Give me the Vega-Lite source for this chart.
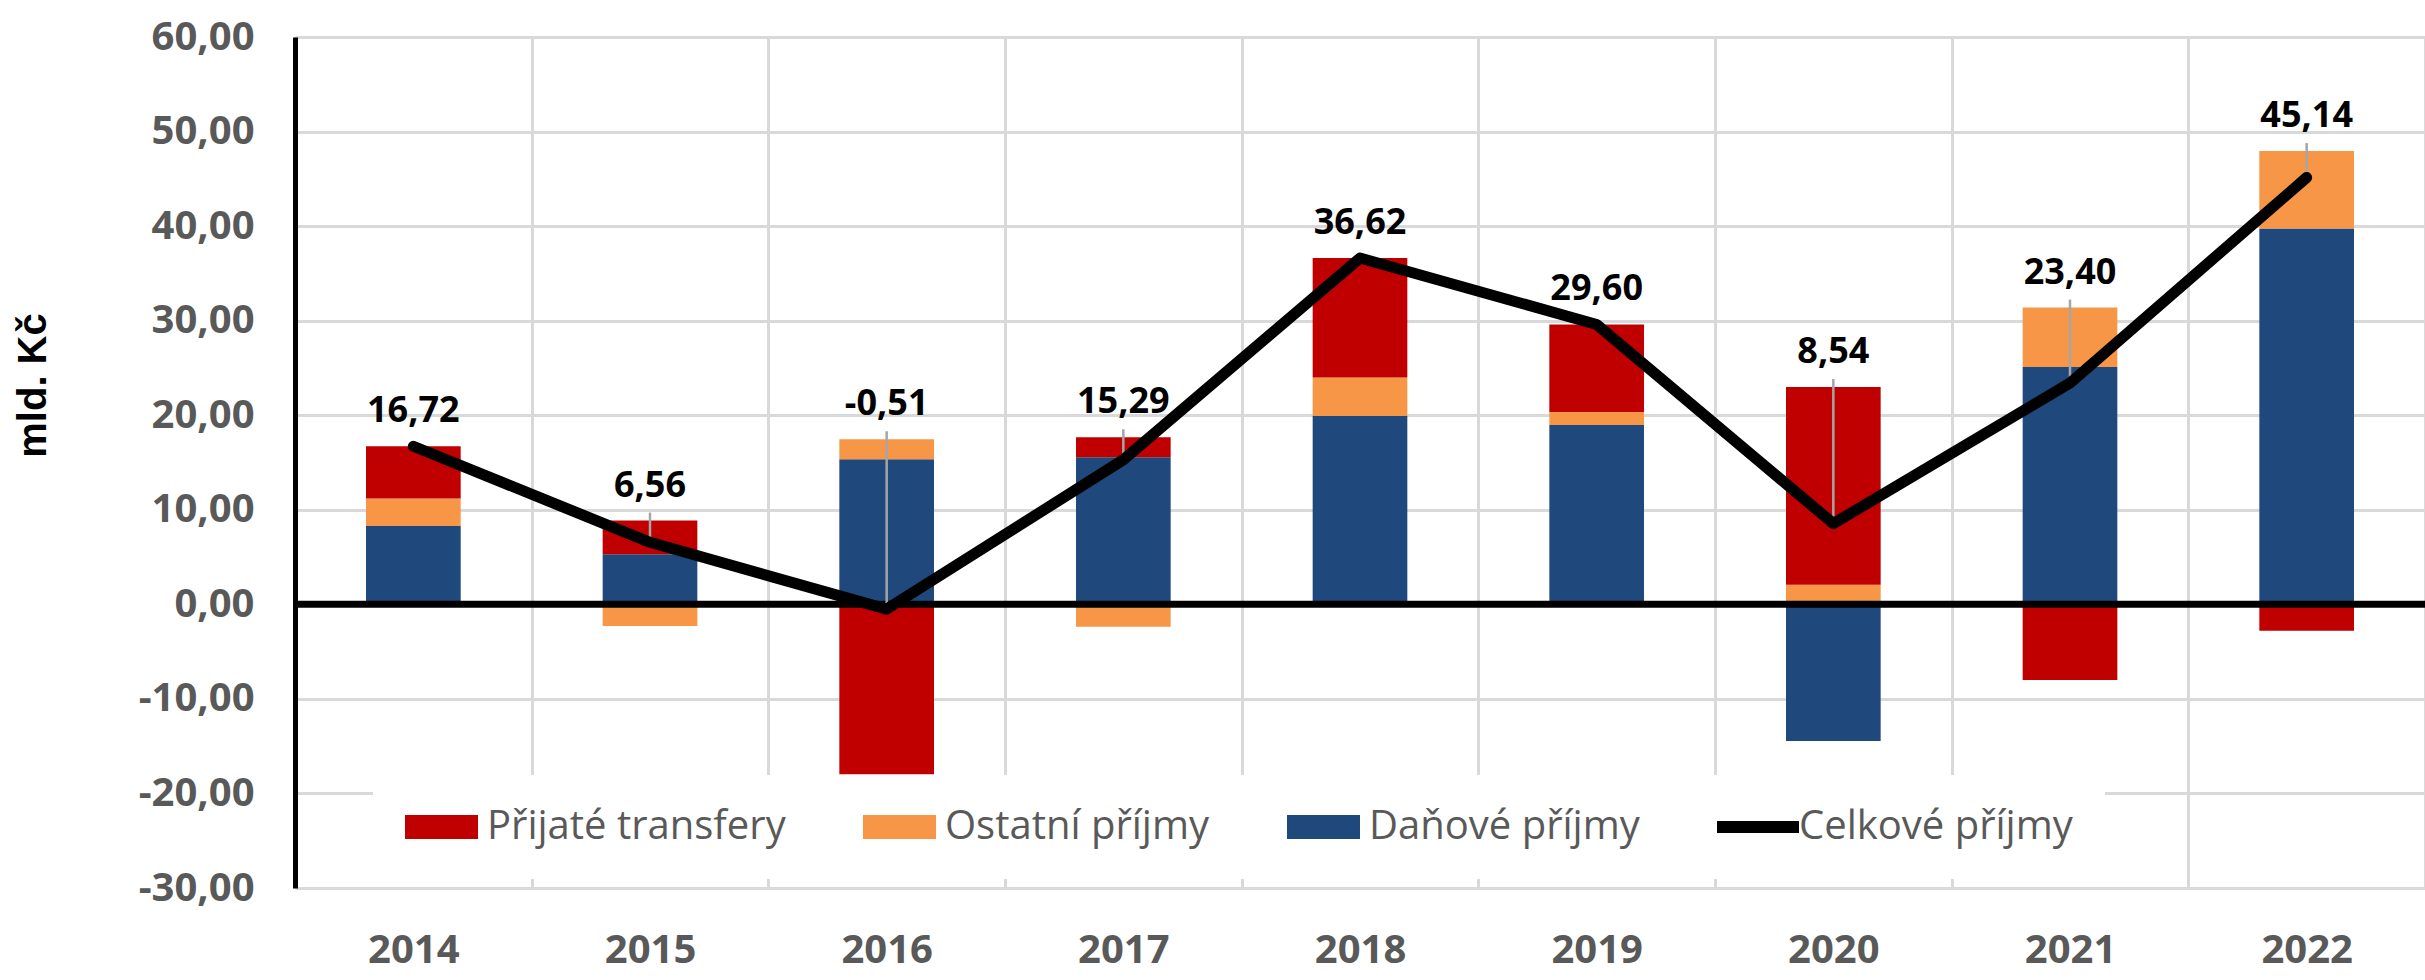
{
  "$schema": "https://vega.github.io/schema/vega-lite/v6.json",
  "width": 2130,
  "height": 851,
  "autosize": {"type": "none"},
  "padding": {"left": 295, "top": 37, "right": 0, "bottom": 92},
  "background": "white",
  "config": {
    "locale": {"number": {"decimal": ",", "thousands": " ", "grouping": [3], "currency": ["", " Kč"], "minus": "-"}},
    "view": {"stroke": null},
    "font": "Open Sans",
    "axisX": {"domain": false, "ticks": false}
  },
  "datasets": {
    "slozky": [
      {"rok": "2014", "serie": "Daňové příjmy", "hodnota": 8.29},
      {"rok": "2014", "serie": "Ostatní příjmy", "hodnota": 2.90},
      {"rok": "2014", "serie": "Přijaté transfery", "hodnota": 5.53},
      {"rok": "2015", "serie": "Daňové příjmy", "hodnota": 5.29},
      {"rok": "2015", "serie": "Ostatní příjmy", "hodnota": -2.30},
      {"rok": "2015", "serie": "Přijaté transfery", "hodnota": 3.57},
      {"rok": "2016", "serie": "Daňové příjmy", "hodnota": 15.34},
      {"rok": "2016", "serie": "Ostatní příjmy", "hodnota": 2.12},
      {"rok": "2016", "serie": "Přijaté transfery", "hodnota": -17.97},
      {"rok": "2017", "serie": "Daňové příjmy", "hodnota": 15.56},
      {"rok": "2017", "serie": "Ostatní příjmy", "hodnota": -2.38},
      {"rok": "2017", "serie": "Přijaté transfery", "hodnota": 2.11},
      {"rok": "2018", "serie": "Daňové příjmy", "hodnota": 19.93},
      {"rok": "2018", "serie": "Ostatní příjmy", "hodnota": 4.06},
      {"rok": "2018", "serie": "Přijaté transfery", "hodnota": 12.63},
      {"rok": "2019", "serie": "Daňové příjmy", "hodnota": 18.97},
      {"rok": "2019", "serie": "Ostatní příjmy", "hodnota": 1.38},
      {"rok": "2019", "serie": "Přijaté transfery", "hodnota": 9.25},
      {"rok": "2020", "serie": "Daňové příjmy", "hodnota": -14.45},
      {"rok": "2020", "serie": "Ostatní příjmy", "hodnota": 2.08},
      {"rok": "2020", "serie": "Přijaté transfery", "hodnota": 20.91},
      {"rok": "2021", "serie": "Daňové příjmy", "hodnota": 25.11},
      {"rok": "2021", "serie": "Ostatní příjmy", "hodnota": 6.28},
      {"rok": "2021", "serie": "Přijaté transfery", "hodnota": -7.99},
      {"rok": "2022", "serie": "Daňové příjmy", "hodnota": 39.76},
      {"rok": "2022", "serie": "Ostatní příjmy", "hodnota": 8.18},
      {"rok": "2022", "serie": "Přijaté transfery", "hodnota": -2.80}
    ],
    "celkem": [
      {"rok": "2014", "celkem": 16.72},
      {"rok": "2015", "celkem": 6.56},
      {"rok": "2016", "celkem": -0.51},
      {"rok": "2017", "celkem": 15.29},
      {"rok": "2018", "celkem": 36.62},
      {"rok": "2019", "celkem": 29.60},
      {"rok": "2020", "celkem": 8.54},
      {"rok": "2021", "celkem": 23.40},
      {"rok": "2022", "celkem": 45.14}
    ]
  },
  "layer": [
    {
      "data": {"name": "slozky"},
      "mark": {"type": "bar", "width": {"band": 0.4}},
      "encoding": {
        "x": {
          "field": "rok", "type": "nominal",
          "scale": {"paddingInner": 0, "paddingOuter": 0},
          "axis": {
            "title": null, "domain": false, "ticks": false, "tickBand": "extent",
            "labelAngle": 0, "labelPadding": 42, "labelFont": "Open Sans",
            "labelFontWeight": "bold", "labelFontSize": 40, "labelColor": "#595959",
            "grid": true, "gridColor": "#D9D9D9", "gridWidth": 3
          }
        },
        "y": {
          "aggregate": "sum", "field": "hodnota", "type": "quantitative",
          "scale": {"domain": [-30, 60], "nice": false},
          "axis": {
            "title": "mld. Kč",
            "values": [-30, -20, -10, 0, 10, 20, 30, 40, 50, 60],
            "format": ".2f", "domainColor": "black", "domainWidth": 5,
            "ticks": false, "labelPadding": 41, "labelFont": "Open Sans",
            "labelFontWeight": "bold", "labelFontSize": 40, "labelColor": "#595959",
            "grid": true, "gridColor": "#D9D9D9", "gridWidth": 3,
            "titleFont": "Liberation Sans", "titleFontSize": 40, "titleFontWeight": "bold",
            "titleColor": "black", "titleX": -262, "titleY": 348, "titleAngle": 270,
            "titleAlign": "center", "titleBaseline": "middle"
          }
        },
        "color": {
          "field": "serie", "type": "nominal",
          "scale": {
            "domain": ["Přijaté transfery", "Ostatní příjmy", "Daňové příjmy", "Celkové příjmy"],
            "range": ["#C00000", "#F79646", "#1F497D", "#000000"]
          },
          "legend": {
            "orient": "none", "legendX": 78, "legendY": 738, "direction": "horizontal",
            "title": null, "fillColor": "white", "padding": 32,
            "symbolSize": 1600, "symbolStrokeWidth": 0,
            "labelFont": "Open Sans", "labelFontSize": 40, "labelColor": "#595959",
            "labelOffset": 42, "columnPadding": 77, "labelLimit": 600,
            "encode": {
              "symbols": {
                "update": {
                  "shape": {"signal": "datum.value === 'Celkové příjmy' ? 'M-1,-0.3H3.1V0.3H-1Z' : 'M-1,-0.6H2.65V0.6H-1Z'"},
                  "fill": {"signal": "scale('color', datum.value)"},
                  "strokeWidth": {"value": 0},
                  "opacity": {"value": 1}
                }
              },
              "legend": {
                "update": {
                  "width": {"value": 1763}
                }
              }
            }
          }
        },
        "order": {"field": "serie", "sort": "ascending"}
      }
    },
    {
      "data": {"values": [{}]},
      "mark": {"type": "rule", "color": "black", "strokeWidth": 7},
      "encoding": {"y": {"datum": 0, "type": "quantitative", "title": "mld. Kč"}}
    },
    {
      "data": {"name": "slozky"},
      "transform": [
        {"filter": {"field": "hodnota", "gt": 0}},
        {"aggregate": [{"op": "sum", "field": "hodnota", "as": "top"}], "groupby": ["rok"]},
        {"lookup": "rok", "from": {"data": {"name": "celkem"}, "key": "rok", "fields": ["celkem"]}},
        {"filter": "datum.top - datum.celkem > 0.05"}
      ],
      "mark": {"type": "rule", "color": "#A6A6A6", "strokeWidth": 2.5, "y2Offset": -8},
      "encoding": {
        "x": {"field": "rok", "type": "nominal", "title": null},
        "y": {"field": "celkem", "type": "quantitative", "title": "mld. Kč"},
        "y2": {"field": "top"}
      }
    },
    {
      "data": {"name": "celkem"},
      "mark": {"type": "line", "strokeWidth": 11, "strokeCap": "round", "strokeJoin": "round"},
      "encoding": {
        "x": {"field": "rok", "type": "nominal", "title": null},
        "y": {"field": "celkem", "type": "quantitative", "title": "mld. Kč"},
        "color": {"datum": "Celkové příjmy"}
      }
    },
    {
      "data": {"name": "slozky"},
      "transform": [
        {"filter": {"field": "hodnota", "gt": 0}},
        {"aggregate": [{"op": "sum", "field": "hodnota", "as": "top"}], "groupby": ["rok"]},
        {"lookup": "rok", "from": {"data": {"name": "celkem"}, "key": "rok", "fields": ["celkem"]}}
      ],
      "mark": {"type": "text", "font": "Open Sans", "fontWeight": "bold", "fontSize": 36, "color": "black", "baseline": "bottom", "dy": -16},
      "encoding": {
        "x": {"field": "rok", "type": "nominal", "title": null},
        "y": {"field": "top", "type": "quantitative", "title": "mld. Kč"},
        "text": {"field": "celkem", "type": "quantitative", "format": ".2f"}
      }
    }
  ]
}
